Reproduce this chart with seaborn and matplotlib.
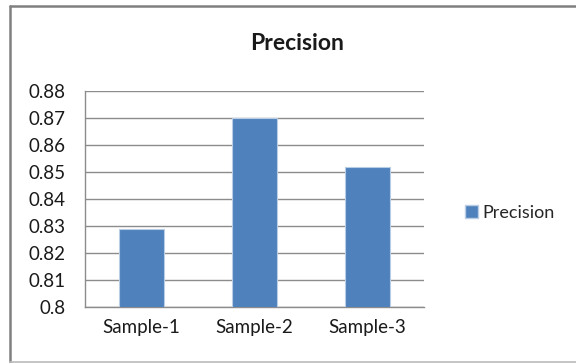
import numpy as np
import pandas as pd
import seaborn as sns
import matplotlib
matplotlib.use("Agg")
import matplotlib.pyplot as plt
from matplotlib.lines import Line2D
from matplotlib.patches import Patch

# data
samples = ['Sample-1', 'Sample-2', 'Sample-3']
precision = [0.829, 0.870, 0.852]
yticks = [0.8, 0.81, 0.82, 0.83, 0.84, 0.85, 0.86, 0.87, 0.88]
ytick_labels = ['0.8', '0.81', '0.82', '0.83', '0.84', '0.85', '0.86', '0.87', '0.88']

df = pd.DataFrame({'Sample': samples, 'Precision': precision})

sns.set_style('white')
plt.rcParams['font.family'] = ['Lato', 'DejaVu Sans']

W, H = 576, 363
fig = plt.figure(figsize=(W / 100, H / 100), dpi=100)
ax = fig.add_axes([85 / W, 1 - 307 / H, (424 - 85) / W, (307 - 91) / H])

bar_color = '#4F81BD'
sns.barplot(data=df, x='Sample', y='Precision', color=bar_color,
            width=0.4, edgecolor='#B9CDE5', linewidth=0.8,
            saturation=1, ax=ax, zorder=3)

ax.set_ylim(0.8, 0.88)
ax.set_xlim(-0.5, 2.5)
ax.set_yticks(yticks)
ax.set_yticklabels(ytick_labels)
ax.yaxis.grid(True, color='#8C8C8C', linewidth=1.0, zorder=0)
ax.set_axisbelow(True)
ax.set_xlabel('')
ax.set_ylabel('')

for s in ['top', 'right']:
    ax.spines[s].set_visible(False)
for s in ['left', 'bottom']:
    ax.spines[s].set_color('#8C8C8C')
    ax.spines[s].set_linewidth(1.0)

ax.tick_params(axis='y', length=5, width=1, color='#8C8C8C',
               labelsize=13.5, labelcolor='#1a1a1a', pad=9)
ax.tick_params(axis='x', which='major', length=0, labelsize=13.5,
               labelcolor='#1a1a1a', pad=9)
ax.set_xticks([-0.5, 0.5, 1.5, 2.5], minor=True)
ax.tick_params(axis='x', which='minor', length=5, width=1, color='#8C8C8C')

fig.text(297 / W, 1 - 44 / H, 'Precision', ha='center', va='center',
         fontsize=16.5, fontweight='bold', color='#1a1a1a')

handles = [Patch(facecolor=bar_color, edgecolor='#B9CDE5', label='Precision')]
fig.legend(handles=handles, loc='center left',
           bbox_to_anchor=(456 / W, 1 - 213 / H), frameon=False,
           fontsize=13, handlelength=0.7, handleheight=0.7,
           handletextpad=0.25, borderpad=0)

# chart frame
fig.add_artist(Line2D([10 / W, 10 / W], [1 - 6 / H, 1 - 362 / H],
                      transform=fig.transFigure, color='#808080', linewidth=1.8))
fig.add_artist(Line2D([10 / W, 1.0], [1 - 6 / H, 1 - 6 / H],
                      transform=fig.transFigure, color='#808080', linewidth=1.8))
fig.add_artist(Line2D([10 / W, 1.0], [1 - 362 / H, 1 - 362 / H],
                      transform=fig.transFigure, color='#BBBBBB', linewidth=1.2))

fig.savefig('out.png', dpi=100)
